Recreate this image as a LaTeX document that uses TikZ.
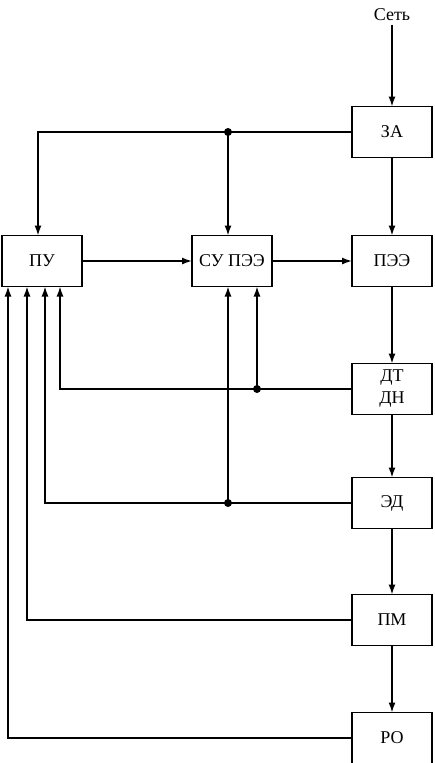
\documentclass[tikz,border=0pt]{standalone}
\usepackage{fontspec}
\setmainfont{Liberation Serif}
\usetikzlibrary{positioning,calc}
\usetikzlibrary{arrows.meta}

\begin{document}
\begin{tikzpicture}[x=1pt,y=-1pt,
    block/.style={rectangle,draw,line width=1.4pt,minimum width=80pt,minimum height=51pt,inner sep=0pt,outer sep=0pt,align=center,font=\fontsize{18}{22}\selectfont},
    link/.style={draw,line width=1.4pt},
    arr/.style={link,-{Latex[length=10pt,width=7pt]}},
    junc/.style={circle,fill,inner sep=0pt,minimum size=8pt}]
    \useasboundingbox (0,0) rectangle (434,763);
    % main chain on the right
    \node[font=\fontsize{18}{22}\selectfont] (net) at (392,15) {Сеть};
    \node[block] (ZA) at (392,132) {ЗА};
    \node[block,below=78pt of ZA] (PEE) {ПЭЭ};
    \node[block,below=77pt of PEE] (DT) {ДТ\\ДН};
    \node[block,below=63pt of DT] (ED) {ЭД};
    \node[block,below=66pt of ED] (PM) {ПМ};
    \node[block,below=67pt of PM] (RO) {РО};
    % control blocks
    \node[block,left=80pt of PEE] (SU) {СУ ПЭЭ};
    \node[block,left=110pt of SU] (PU) {ПУ};
    % input points
    \coordinate (pu0) at ($(PU.north)+(-4,0)$);
    \coordinate (pu1) at ($(PU.south)+(-34,0)$);
    \coordinate (pu2) at ($(PU.south)+(-15,0)$);
    \coordinate (pu3) at ($(PU.south)+(3,0)$);
    \coordinate (pu4) at ($(PU.south)+(18,0)$);
    \coordinate (su0) at ($(SU.north)+(-4,0)$);
    \coordinate (su1) at ($(SU.south)+(-4,0)$);
    \coordinate (su2) at ($(SU.south)+(25,0)$);

    \draw[arr] (net) -- (ZA);
    \draw[arr] (ZA) -- (PEE);
    \draw[arr] (PEE) -- (DT);
    \draw[arr] (DT) -- (ED);
    \draw[arr] (ED) -- (PM);
    \draw[arr] (PM) -- (RO);
    \draw[arr] (PU) -- (SU);
    \draw[arr] (SU) -- (PEE);

    \draw[arr] (ZA.west) -| (pu0);
    \draw[arr] (ZA.west -| su0) -- (su0);
    \node[junc] (j0) at (ZA.west -| su0) {};

    % feedback
    \draw[arr] (DT.west) -| (pu4);
    \draw[arr] (DT.west -| su2) -- (su2);
    \node[junc] (j1) at (DT.west -| su2) {};
    \draw[arr] (ED.west) -| (pu3);
    \draw[arr] (ED.west -| su1) -- (su1);
    \node[junc] (j2) at (ED.west -| su1) {};
    \draw[arr] (PM.west) -| (pu2);
    \draw[arr] (RO.west) -| (pu1);
\end{tikzpicture}
\end{document}
